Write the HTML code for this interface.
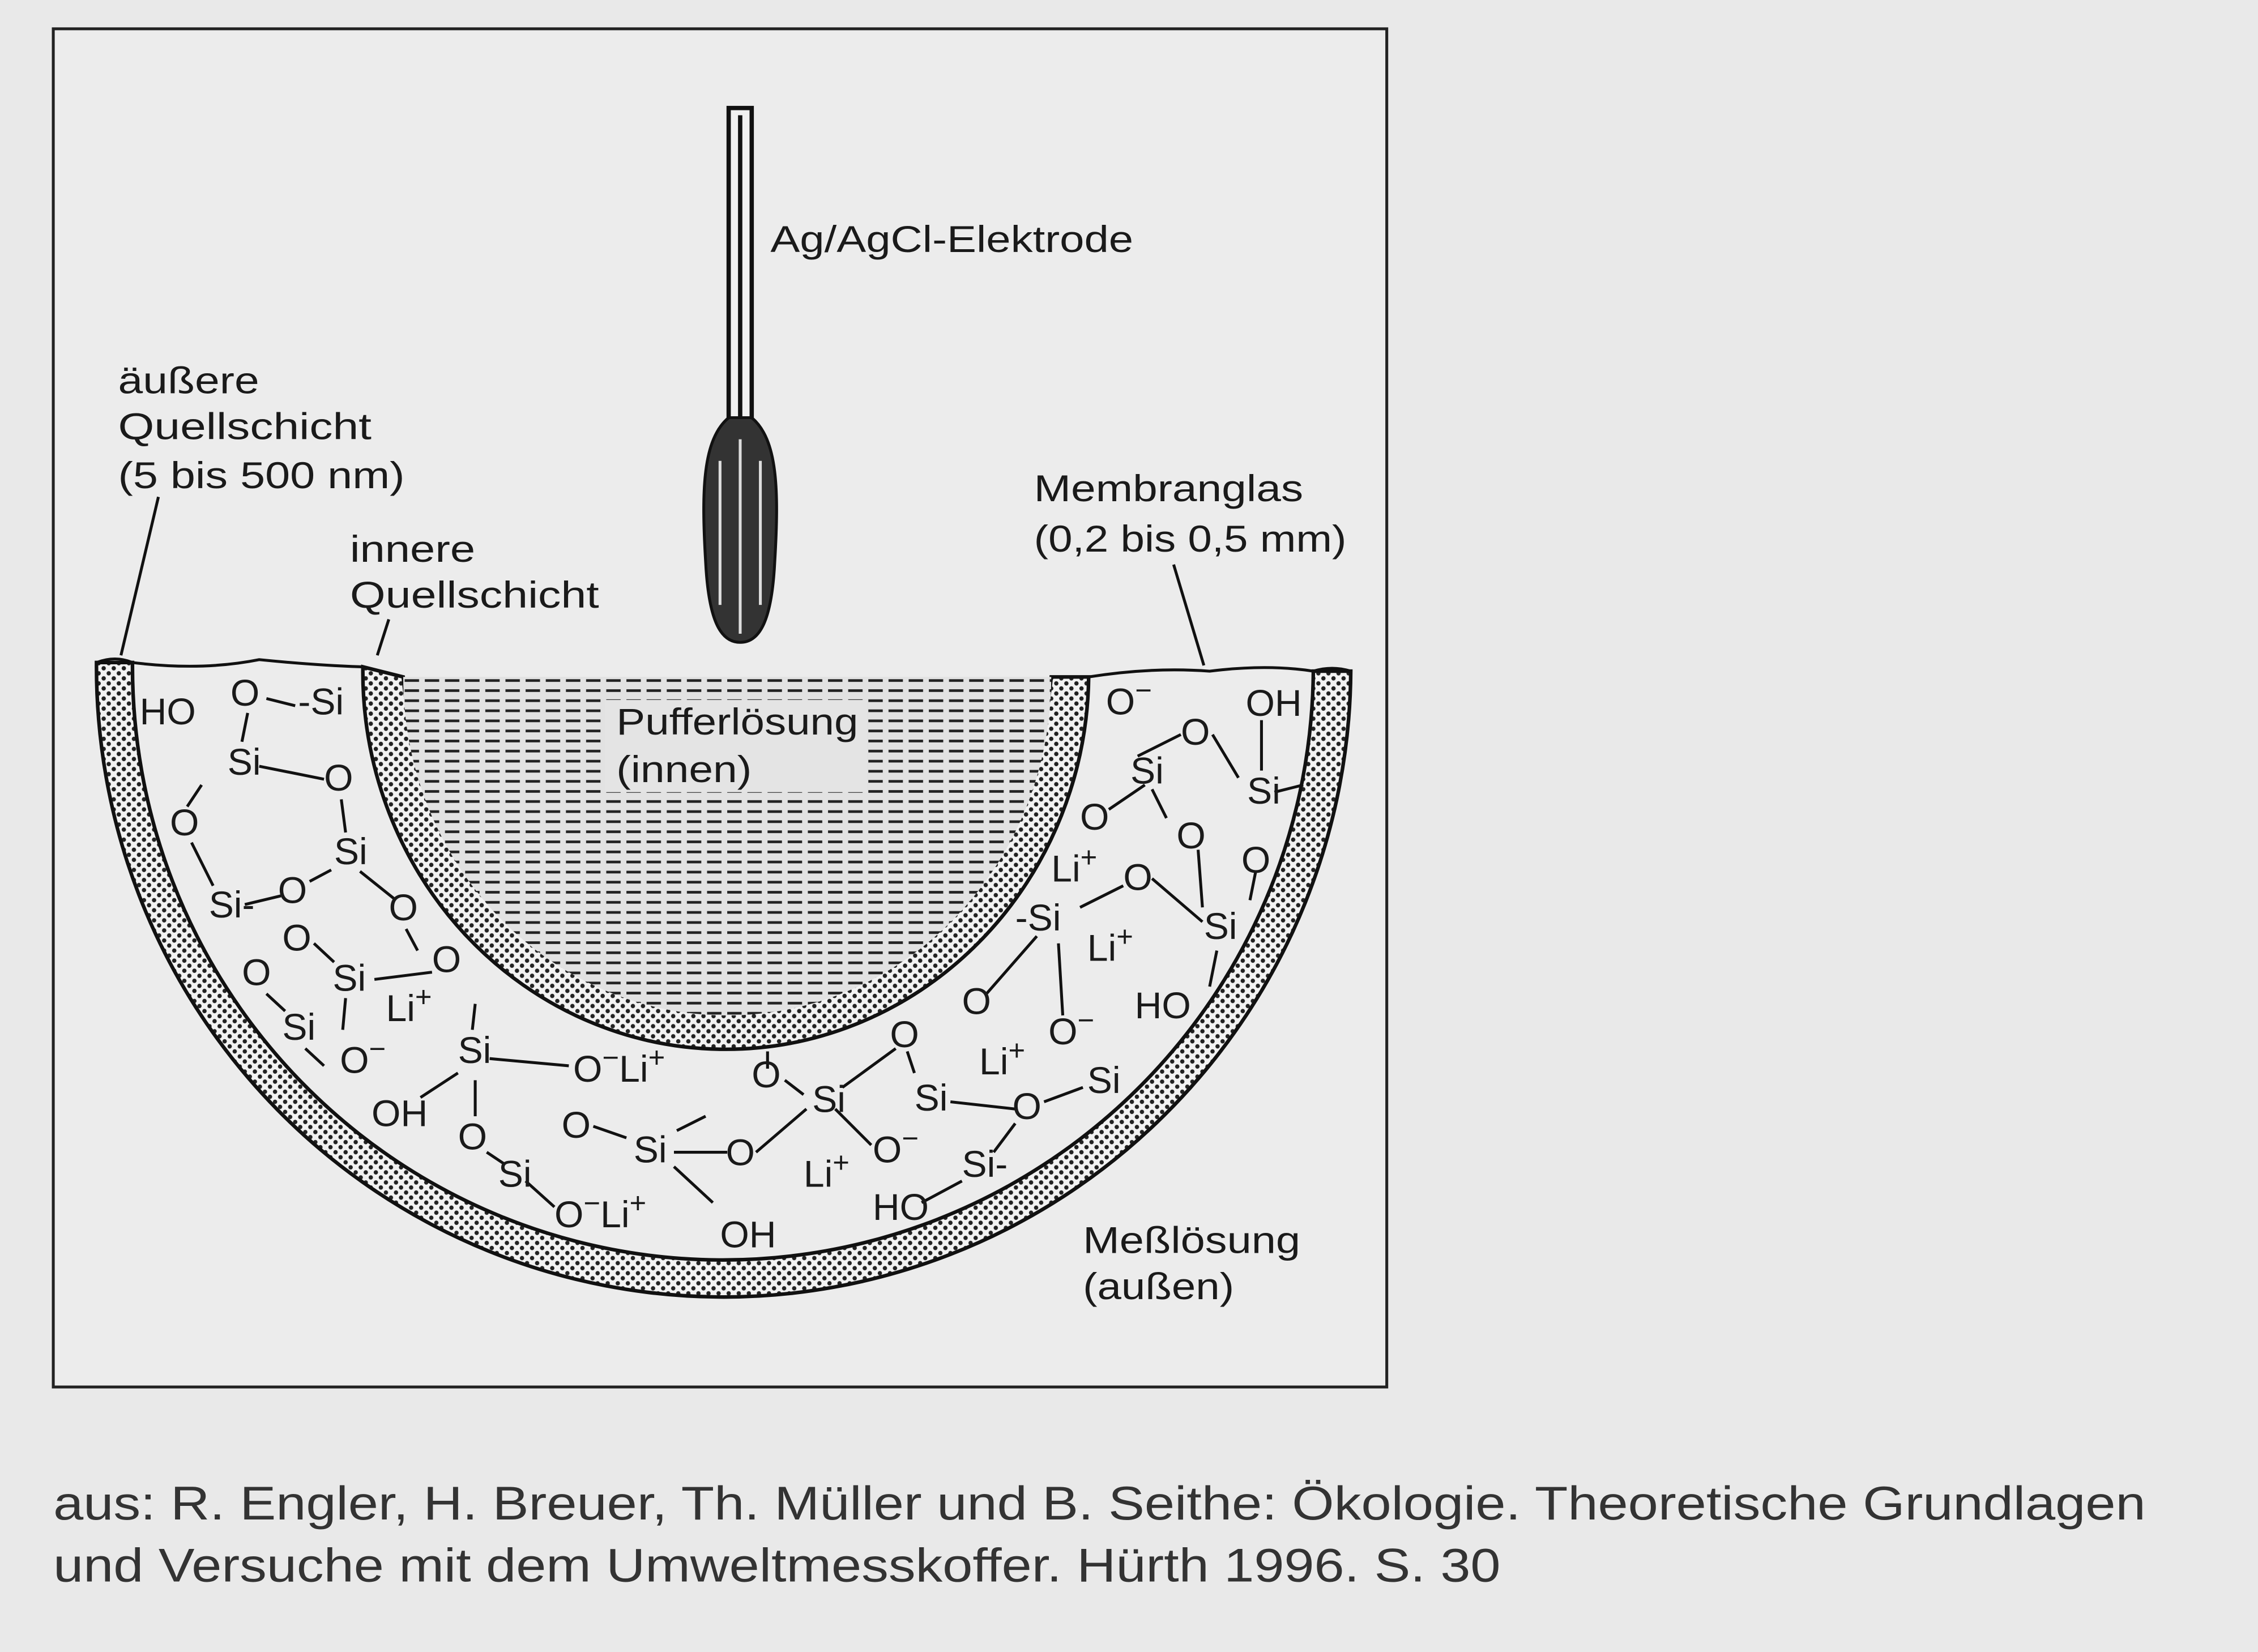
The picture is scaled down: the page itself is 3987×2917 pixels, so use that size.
<!DOCTYPE html>
<html><head><meta charset="utf-8"><style>
html,body{margin:0;padding:0;background:#e9e9e9}
svg{display:block}
text{font-family:"Liberation Sans",sans-serif;fill:#1a1a1a}
</style></head><body>
<svg width="3987" height="2917" viewBox="0 0 1568 1147" preserveAspectRatio="none" xmlns="http://www.w3.org/2000/svg">
<defs>
<pattern id="dots" width="7" height="7" patternUnits="userSpaceOnUse">
<rect width="7" height="7" fill="#f2f2f2"/>
<circle cx="2" cy="2" r="1.5" fill="#222"/><circle cx="5.5" cy="5.5" r="1.5" fill="#222"/>
</pattern>
<pattern id="hatch" width="14" height="7" patternUnits="userSpaceOnUse">
<rect width="14" height="7" fill="#e2e2e2"/>
<line x1="1" y1="3.5" x2="11" y2="3.5" stroke="#222" stroke-width="1.8"/>
</pattern>
</defs>
<rect width="1568" height="1147" fill="#e9e9e9"/>
<rect x="37" y="20" width="926" height="943" fill="#ececec" stroke="#222" stroke-width="2"/>
<path d="M67,460 A435,437 0 0 0 938,466 L912,466 A410,412 0 0 1 92,460 Z" fill="url(#dots)" stroke="#111" stroke-width="2.5"/>
<path d="M67,460 Q80,455 92,460 M912,466 Q925,462 938,466" stroke="#111" stroke-width="2" fill="none"/>
<path d="M252,463 A252,262 0 0 0 756,470 L730,470 A226,236 0 0 1 280,470 Z" fill="url(#dots)" stroke="#111" stroke-width="2.5"/>
<path d="M280,470 A225,235 0 0 0 730,470 Z" fill="url(#hatch)"/>
<rect x="420" y="486" width="182" height="64" fill="#e4e4e4"/>
<path d="M92,460 Q140,466 180,458 Q220,462 252,463 M756,470 Q800,463 840,466 Q880,461 912,466" stroke="#111" stroke-width="2" fill="none"/>
<rect x="506" y="75" width="16" height="220" fill="#f0f0f0" stroke="#111" stroke-width="3"/>
<line x1="514" y1="80" x2="514" y2="290" stroke="#111" stroke-width="3"/>
<path d="M506,290 C488,305 487,340 490,390 C492,430 500,446 514,446 C528,446 536,430 538,390 C541,340 540,305 522,290 Z" fill="#333" stroke="#111" stroke-width="2"/>
<path d="M500,320 L500,420 M514,305 L514,440 M528,320 L528,420" stroke="#ddd" stroke-width="2"/>
<path d="M84,455 L110,345 M262,455 L270,430 M836,462 L815,392" stroke="#111" stroke-width="2" fill="none"/>
<g font-size="26">
<text x="535" y="175" textLength="252" lengthAdjust="spacingAndGlyphs">Ag/AgCl-Elektrode</text>
<text x="82" y="273" textLength="98" lengthAdjust="spacingAndGlyphs">äußere</text>
<text x="82" y="305" textLength="176" lengthAdjust="spacingAndGlyphs">Quellschicht</text>
<text x="82" y="339" textLength="199" lengthAdjust="spacingAndGlyphs">(5 bis 500 nm)</text>
<text x="243" y="390" textLength="87" lengthAdjust="spacingAndGlyphs">innere</text>
<text x="243" y="422" textLength="173" lengthAdjust="spacingAndGlyphs">Quellschicht</text>
<text x="718" y="348" textLength="187" lengthAdjust="spacingAndGlyphs">Membranglas</text>
<text x="718" y="383" textLength="217" lengthAdjust="spacingAndGlyphs">(0,2 bis 0,5 mm)</text>
<text x="428" y="510" textLength="168" lengthAdjust="spacingAndGlyphs">Pufferlösung</text>
<text x="428" y="543" textLength="94" lengthAdjust="spacingAndGlyphs">(innen)</text>
<text x="752" y="870" textLength="151" lengthAdjust="spacingAndGlyphs">Meßlösung</text>
<text x="752" y="902" textLength="105" lengthAdjust="spacingAndGlyphs">(außen)</text>
</g>
<g stroke="#111" stroke-width="2" fill="none">
<path d="M185,485 L205,490 M172,495 L168,515 M180,532 L225,541 M140,545 L130,560 M237,555 L240,578 M133,585 L148,615 M170,628 L195,622 M215,612 L230,604 M250,605 L275,625 M218,655 L232,668 M282,645 L290,660 M300,675 L260,680 M185,690 L198,702 M240,693 L238,715 M212,728 L225,740 M330,697 L328,715 M340,735 L395,740 M318,745 L292,762 M330,750 L330,775 M338,800 L350,808 M412,782 L435,790 M468,800 L505,800 M470,785 L490,775 M468,810 L495,835 M365,820 L385,838 M525,800 L560,770 M545,750 L558,760 M585,755 L622,728 M580,770 L605,795 M630,730 L635,745 M660,765 L705,770 M725,765 L752,755 M690,800 L705,780 M640,835 L668,820 M790,525 L820,510 M842,510 L860,540 M876,500 L876,535 M800,548 L810,568 M832,590 L835,630 M795,545 L770,562 M750,630 L780,615 M800,610 L835,640 M845,660 L840,685 M720,650 L685,690 M735,655 L738,705 M872,605 L868,625 M533,730 L533,742 M885,550 L905,545"/>
</g>
<g font-size="26">
<text x="97" y="503">HO</text><text x="160" y="490">O</text><text x="207" y="496">-Si</text>
<text x="158" y="538">Si</text><text x="225" y="549">O</text><text x="118" y="580">O</text>
<text x="232" y="600">Si</text><text x="145" y="637">Si-</text><text x="193" y="627">O</text>
<text x="270" y="639">O</text><text x="196" y="660">O</text><text x="300" y="675">O</text>
<text x="168" y="684">O</text><text x="231" y="688">Si</text><text x="268" y="709">Li<tspan dy="-10" font-size="20">+</tspan></text>
<text x="196" y="722">Si</text><text x="236" y="745">O<tspan dy="-10" font-size="20">−</tspan></text>
<text x="318" y="738">Si</text><text x="398" y="751">O<tspan dy="-10" font-size="20">−</tspan><tspan dy="10">Li</tspan><tspan dy="-10" font-size="20">+</tspan></text>
<text x="258" y="782">OH</text><text x="318" y="798">O</text><text x="390" y="790">O</text>
<text x="440" y="807">Si</text><text x="504" y="809">O</text><text x="346" y="824">Si</text>
<text x="385" y="852">O<tspan dy="-10" font-size="20">−</tspan><tspan dy="10">Li</tspan><tspan dy="-10" font-size="20">+</tspan></text>
<text x="500" y="866">OH</text><text x="522" y="755">O</text><text x="564" y="772">Si</text>
<text x="618" y="727">O</text><text x="635" y="771">Si</text><text x="680" y="746">Li<tspan dy="-10" font-size="20">+</tspan></text>
<text x="703" y="777">O</text><text x="755" y="759">Si</text><text x="558" y="824">Li<tspan dy="-10" font-size="20">+</tspan></text>
<text x="606" y="807">O<tspan dy="-10" font-size="20">−</tspan></text><text x="668" y="817">Si-</text><text x="606" y="847">HO</text>
<text x="768" y="496">O<tspan dy="-10" font-size="20">−</tspan></text><text x="820" y="517">O</text><text x="865" y="497">OH</text>
<text x="785" y="544">Si</text><text x="866" y="558">Si</text><text x="750" y="576">O</text>
<text x="730" y="612">Li<tspan dy="-10" font-size="20">+</tspan></text><text x="817" y="589">O</text><text x="780" y="618">O</text>
<text x="862" y="606">O</text><text x="705" y="646">-Si</text><text x="836" y="652">Si</text>
<text x="755" y="667">Li<tspan dy="-10" font-size="20">+</tspan></text><text x="788" y="707">HO</text>
<text x="728" y="725">O<tspan dy="-10" font-size="20">−</tspan></text><text x="668" y="704">O</text>
</g>
<g font-size="33">
<text x="37" y="1055" textLength="1453" lengthAdjust="spacingAndGlyphs" style="fill:#333">aus: R. Engler, H. Breuer, Th. Müller und B. Seithe: Ökologie. Theoretische Grundlagen</text>
<text x="37" y="1098" textLength="1005" lengthAdjust="spacingAndGlyphs" style="fill:#333">und Versuche mit dem Umweltmesskoffer. Hürth 1996. S. 30</text>
</g>
</svg>
</body></html>
